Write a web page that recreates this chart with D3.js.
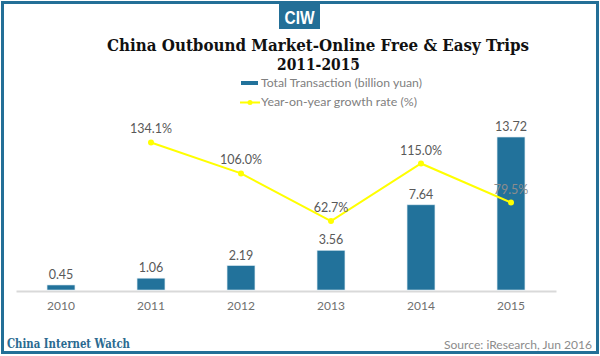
<!DOCTYPE html>
<html><head><meta charset="utf-8">
<script src="https://cdn.jsdelivr.net/npm/d3@7"></script>
<style>
html,body{margin:0;padding:0;background:#fff;}
svg{display:block;}
</style></head>
<body>
<svg id="chart" width="600" height="356"></svg>
<script>
const years = ["2010","2011","2012","2013","2014","2015"];
const transaction = [0.45, 1.06, 2.19, 3.56, 7.64, 13.72];
const transactionLabels = ["0.45","1.06","2.19","3.56","7.64","13.72"];
const growthYears = ["2011","2012","2013","2014","2015"];
const growth = [134.1, 106.0, 62.7, 115.0, 79.5];
const growthLabels = ["134.1%","106.0%","62.7%","115.0%","79.5%"];
const titleLines = ["China Outbound Market-Online Free & Easy Trips","2011-2015"];
const legendLabels = ["Total Transaction (billion yuan)","Year-on-year growth rate (%)"];

const svg = d3.select("#chart");
const blue = "#22729b", teal = "#236f97", yellow = "#ffff00", gray = "#666666";
const sans = "'Lato','Open Sans',sans-serif";
const serif = "'DejaVu Serif','Liberation Serif',serif";

// frame
svg.append("rect").attr("x",0).attr("y",0).attr("width",600).attr("height",356).attr("fill","#fff");
svg.append("rect").attr("x",2.5).attr("y",2.5).attr("width",595).attr("height",350)
  .attr("fill","none").attr("stroke",teal).attr("stroke-width",3);

// logo
svg.append("rect").attr("x",279).attr("y",4).attr("width",41).attr("height",25).attr("fill",teal);
svg.append("text").attr("x",299.5).attr("y",24).attr("text-anchor","middle")
  .attr("font-family","'Liberation Sans Narrow','Liberation Sans',sans-serif").attr("font-weight","bold")
  .attr("font-size",18).attr("fill","#fff").attr("textLength",30).attr("lengthAdjust","spacingAndGlyphs").text("CIW");

// title
function fitText(sel, w){ const l = sel.node().getComputedTextLength(); if(l>0){ sel.attr("textLength",w).attr("lengthAdjust","spacingAndGlyphs"); } }
const t1 = svg.append("text").attr("x",318).attr("y",51).attr("text-anchor","middle")
  .attr("font-family",serif).attr("font-weight","bold").attr("font-size",16.5).attr("fill","#111").text(titleLines[0]);
fitText(t1,422);
const t2 = svg.append("text").attr("x",318.5).attr("y",69.5).attr("text-anchor","middle")
  .attr("font-family",serif).attr("font-weight","bold").attr("font-size",16.5).attr("fill","#111").text(titleLines[1]);
fitText(t2,83);

// legend
svg.append("rect").attr("x",241).attr("y",81).attr("width",17).attr("height",4).attr("fill",blue);
const lg1 = svg.append("text").attr("x",261).attr("y",87).attr("font-family",sans).attr("font-size",11.5)
  .attr("fill","#808080").text(legendLabels[0]);
fitText(lg1,161);
svg.append("line").attr("x1",240).attr("x2",260).attr("y1",102.5).attr("y2",102.5).attr("stroke",yellow).attr("stroke-width",2);
svg.append("circle").attr("cx",250).attr("cy",102.5).attr("r",2.5).attr("fill",yellow);
const lg2 = svg.append("text").attr("x",261).attr("y",106).attr("font-family",sans).attr("font-size",11.5)
  .attr("fill","#808080").text(legendLabels[1]);
fitText(lg2,156);

// scales
const x = d3.scaleBand().domain(years).range([16,556]).paddingInner(0.69).paddingOuter(0.345);
const y = d3.scaleLinear().domain([0,16]).range([290,111.6]);
const y2 = d3.scaleLinear().domain([0,162]).range([290,111.8]);

// axis
const axis = d3.axisBottom(x).tickSize(0).tickPadding(10);
const ag = svg.append("g").attr("transform","translate(0,291)").call(axis);
ag.select(".domain").attr("stroke","#d9d9d9").attr("stroke-width",2);
ag.selectAll("text").attr("font-family",sans).attr("font-size",12).attr("fill","#6f6f6f");

// bars
svg.append("g").selectAll("rect").data(transaction).join("rect")
  .attr("x",(d,i)=>x(years[i])).attr("width",x.bandwidth())
  .attr("y",d=>y(d)).attr("height",d=>y(0)-y(d))
  .attr("fill",blue).attr("stroke","#d8e8f0").attr("stroke-width",0.6);
svg.append("g").selectAll("text").data(transaction).join("text")
  .attr("x",(d,i)=>x(years[i])+x.bandwidth()/2).attr("y",d=>y(d)-6)
  .attr("text-anchor","middle").attr("font-family",sans).attr("font-size",12.5).attr("fill","#595959")
  .text((d,i)=>transactionLabels[i]);

// line
const cx = (i)=>x(growthYears[i])+x.bandwidth()/2;
const line = d3.line().x((d,i)=>cx(i)).y(d=>y2(d));
svg.append("path").datum(growth).attr("d",line).attr("fill","none").attr("stroke",yellow).attr("stroke-width",2);
svg.append("g").selectAll("circle").data(growth).join("circle")
  .attr("cx",(d,i)=>cx(i)).attr("cy",d=>y2(d)).attr("r",3).attr("fill",yellow);
svg.append("g").selectAll("text").data(growth).join("text")
  .attr("x",(d,i)=>cx(i)).attr("y",d=>y2(d)-9)
  .attr("text-anchor","middle").attr("font-family",sans).attr("font-size",12.5)
  .attr("fill",(d,i)=>i===4?"#8c8c8c":"#595959")
  .text((d,i)=>growthLabels[i]);

// footer
const f1 = svg.append("text").attr("x",7).attr("y",348).attr("font-family",serif).attr("font-weight","bold")
  .attr("font-size",12).attr("fill","#2a6a90").text("China Internet Watch");
fitText(f1,123);
const f2 = svg.append("text").attr("x",592).attr("y",349).attr("text-anchor","end").attr("font-family",sans)
  .attr("font-size",12).attr("fill","#8c8c8c").text("Source: iResearch, Jun 2016");
fitText(f2,148);
</script>
</body></html>
